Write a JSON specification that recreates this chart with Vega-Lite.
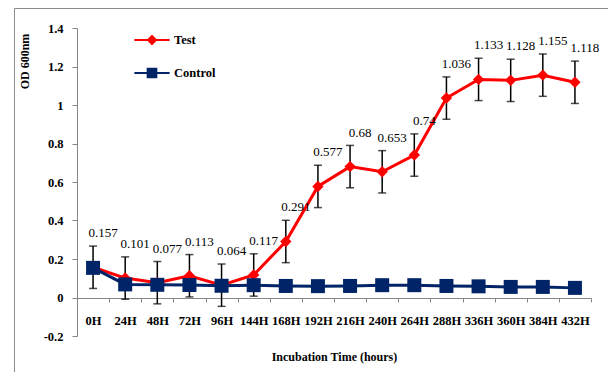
{
  "$schema": "https://vega.github.io/schema/vega-lite/v6.json",
  "autosize": "none",
  "padding": {"left": 14, "top": 8, "right": 0, "bottom": 0},
  "width": 594,
  "height": 364,
  "background": "white",
  "config": {
    "view": {"stroke": "#8c8c8c", "strokeWidth": 1},
    "font": "serif"
  },
  "data": {
    "values": [
      {"time": "0H", "series": "Test", "value": 0.157, "err": 0.11},
      {"time": "24H", "series": "Test", "value": 0.101, "err": 0.11},
      {"time": "48H", "series": "Test", "value": 0.077, "err": 0.11},
      {"time": "72H", "series": "Test", "value": 0.113, "err": 0.11},
      {"time": "96H", "series": "Test", "value": 0.064, "err": 0.11},
      {"time": "144H", "series": "Test", "value": 0.117, "err": 0.11},
      {"time": "168H", "series": "Test", "value": 0.291, "err": 0.11},
      {"time": "192H", "series": "Test", "value": 0.577, "err": 0.11},
      {"time": "216H", "series": "Test", "value": 0.68, "err": 0.11},
      {"time": "240H", "series": "Test", "value": 0.653, "err": 0.11},
      {"time": "264H", "series": "Test", "value": 0.74, "err": 0.11},
      {"time": "288H", "series": "Test", "value": 1.036, "err": 0.11},
      {"time": "336H", "series": "Test", "value": 1.133, "err": 0.11},
      {"time": "360H", "series": "Test", "value": 1.128, "err": 0.11},
      {"time": "384H", "series": "Test", "value": 1.155, "err": 0.11},
      {"time": "432H", "series": "Test", "value": 1.118, "err": 0.11},
      {"time": "0H", "series": "Control", "value": 0.154},
      {"time": "24H", "series": "Control", "value": 0.068},
      {"time": "48H", "series": "Control", "value": 0.066},
      {"time": "72H", "series": "Control", "value": 0.065},
      {"time": "96H", "series": "Control", "value": 0.061},
      {"time": "144H", "series": "Control", "value": 0.064},
      {"time": "168H", "series": "Control", "value": 0.06},
      {"time": "192H", "series": "Control", "value": 0.059},
      {"time": "216H", "series": "Control", "value": 0.06},
      {"time": "240H", "series": "Control", "value": 0.064},
      {"time": "264H", "series": "Control", "value": 0.064},
      {"time": "288H", "series": "Control", "value": 0.06},
      {"time": "336H", "series": "Control", "value": 0.058},
      {"time": "360H", "series": "Control", "value": 0.055},
      {"time": "384H", "series": "Control", "value": 0.055},
      {"time": "432H", "series": "Control", "value": 0.05}
    ]
  },
  "encoding": {
    "x": {
      "field": "time",
      "type": "nominal",
      "scale": {
        "domain": ["0H","24H","48H","72H","96H","144H","168H","192H","216H","240H","264H","288H","336H","360H","384H","432H"],
        "range": [63, 577],
        "paddingInner": 0,
        "paddingOuter": 0
      },
      "axis": {
        "title": "Incubation Time (hours)",
        "offset": -74,
        "labelAngle": 0,
        "tickBand": "extent",
        "domainColor": "#868686",
        "tickColor": "#868686",
        "tickSize": 4,
        "labelPadding": 12,
        "labelFont": "serif",
        "labelFontSize": 12.5,
        "labelFontWeight": "bold",
        "labelColor": "black",
        "titleFont": "serif",
        "titleFontSize": 12,
        "titleFontWeight": "bold",
        "titleColor": "black",
        "titlePadding": 25
      }
    },
    "y": {
      "field": "value",
      "type": "quantitative",
      "scale": {"domain": [-0.2, 1.4], "range": [328, 20], "nice": false, "zero": false},
      "axis": {
        "title": "OD 600nm",
        "offset": -63,
        "values": [-0.2, 0, 0.2, 0.4, 0.6, 0.8, 1, 1.2, 1.4],
        "labelExpr": "replace(format(datum.value, '~g'), '\u2212', '-')",
        "grid": false,
        "domainColor": "#868686",
        "tickColor": "#868686",
        "tickSize": 5,
        "labelPadding": 9,
        "labelFont": "serif",
        "labelFontSize": 12.5,
        "labelFontWeight": "bold",
        "labelColor": "black",
        "titleFont": "serif",
        "titleFontSize": 12,
        "titleFontWeight": "bold",
        "titleColor": "black",
        "titleX": -53,
        "titleY": 53,
        "titleAngle": -90,
        "titleAlign": "center",
        "titleBaseline": "middle"
      }
    }
  },
  "layer": [
    {
      "transform": [{"filter": "datum.series === 'Test'"}],
      "mark": {
        "type": "errorbar",
        "color": "black",
        "ticks": {"size": 8, "thickness": 1.5, "color": "black"},
        "rule": {"strokeWidth": 1.5, "color": "black"}
      },
      "encoding": {
        "y": {"field": "value", "type": "quantitative", "title": "OD 600nm"},
        "yError": {"field": "err"}
      }
    },
    {
      "transform": [{"filter": "datum.series === 'Test'"}],
      "mark": {"type": "line", "strokeWidth": 3},
      "encoding": {
        "color": {
          "field": "series",
          "type": "nominal",
          "scale": {"domain": ["Test", "Control"], "range": ["#FF0000", "#002467"]},
          "legend": {
            "orient": "none",
            "legendX": 121,
            "legendY": 15,
            "title": null,
            "padding": 0,
            "symbolSize": 1024,
            "symbolStrokeWidth": 2,
            "labelOffset": 5,
            "rowPadding": 8,
            "labelFont": "serif",
            "labelFontSize": 12.5,
            "labelFontWeight": "bold",
            "labelColor": "black",
            "symbolType": "M-1.1,0H1.1",
            "encode": {
              "symbols": {
                "update": {
                  "shape": {"signal": "datum.value === 'Test' ? 'M-1.1,0H1.1M0,-0.25L0.25,0L0,0.25L-0.25,0Z' : 'M-1.1,0H1.1M-0.27,-0.27H0.27V0.27H-0.27Z'"},
                  "fill": {"signal": "datum.value === 'Test' ? '#FF0000' : '#002467'"},
                  "fillOpacity": {"value": 1}
                }
              }
            }
          }
        }
      }
    },
    {
      "transform": [{"filter": "datum.series === 'Test'"}],
      "mark": {"type": "point", "shape": "diamond", "filled": true, "size": 130, "color": "#FF0000", "opacity": 1}
    },
    {
      "transform": [{"filter": "datum.series === 'Control'"}],
      "mark": {"type": "line", "strokeWidth": 3},
      "encoding": {
        "color": {"field": "series", "type": "nominal"}
      }
    },
    {
      "transform": [{"filter": "datum.series === 'Control'"}],
      "mark": {"type": "point", "shape": "square", "filled": true, "size": 196, "color": "#002467", "opacity": 1}
    },
    {
      "transform": [{"filter": "datum.series === 'Test'"}],
      "mark": {"type": "text", "dx": 10, "dy": -34, "baseline": "middle", "align": "center", "font": "serif", "fontSize": 13, "color": "black"},
      "encoding": {
        "text": {"field": "value", "type": "quantitative", "format": ""}
      }
    }
  ]
}
